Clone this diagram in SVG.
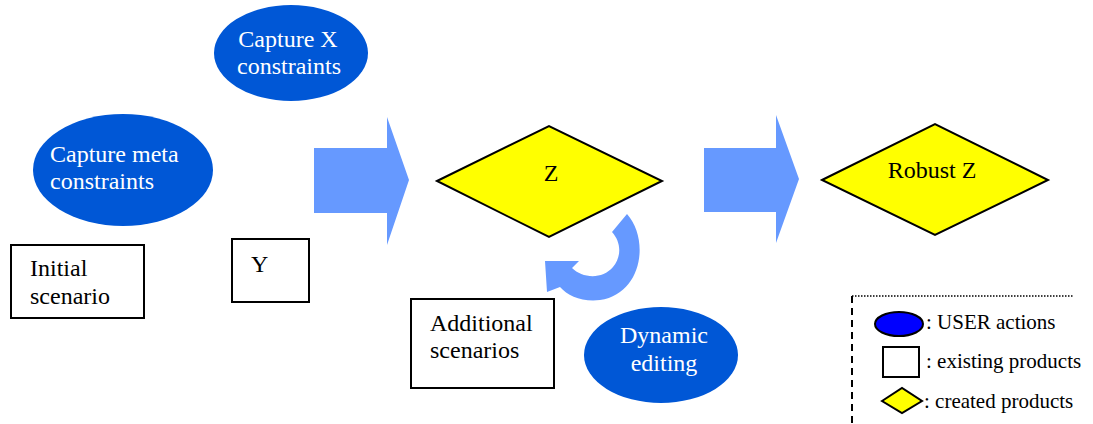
<svg xmlns="http://www.w3.org/2000/svg" width="1093" height="424" viewBox="0 0 1093 424">
<style>
.act{fill:#0057D6;}
.box{fill:#fff;stroke:#000;stroke-width:2;}
.dia{fill:#ffff00;stroke:#000;stroke-width:2;}
.arr{fill:#6699ff;}
text{font-family:'Liberation Serif','Times New Roman',Times,serif;font-size:24px;}
.w{fill:#fff;}
.k{fill:#000;}
.lg{font-size:21px;}
</style>
<rect width="1093" height="424" fill="#fff"/>
<g id="capture-x"><ellipse class="act" cx="291" cy="53" rx="77" ry="48"/><text class="w" x="288" y="47" text-anchor="middle">Capture X</text><text class="w" x="289" y="74" text-anchor="middle">constraints</text></g>
<g id="capture-meta"><ellipse class="act" cx="123" cy="170" rx="90" ry="56"/><text class="w" x="50" y="162">Capture meta</text><text class="w" x="50" y="189">constraints</text></g>
<g id="initial"><rect class="box" x="11" y="245" width="133" height="73"/><text class="k" x="30" y="276">Initial</text><text class="k" x="30" y="304">scenario</text></g>
<g id="y"><rect class="box" x="232" y="239" width="77" height="63"/><text class="k" x="251" y="272">Y</text></g>
<g id="z"><polygon class="dia" points="437,181 549,126 662,181 549,237"/><text class="k" x="551" y="181" text-anchor="middle">Z</text></g>
<g id="robust-z"><polygon class="dia" points="822,180 935,124 1048,180 935,235"/><text class="k" x="932" y="178" text-anchor="middle">Robust Z</text></g>
<g id="additional"><rect class="box" x="411" y="299" width="143" height="89"/><text class="k" x="430" y="331">Additional</text><text class="k" x="430" y="358">scenarios</text></g>
<g id="dynamic"><ellipse class="act" cx="661" cy="355" rx="77" ry="48"/><text class="w" x="664" y="343" text-anchor="middle">Dynamic</text><text class="w" x="664" y="371" text-anchor="middle">editing</text></g>
<g id="connectors">
<polygon class="arr" points="314,148 387,148 387,117 409,180 387,245 387,213 314,213"/>
<polygon class="arr" points="704,148 776,148 776,115 799,179 776,243 776,212 704,212"/>
<path class="arr" d="M627,214 C650,240 642,294 600,300 C582,302 568,296 560,287 L547,292 L545,261 L579,261 L572,268 C582,278 602,280 613,267 C622,256 621,242 612,232 Z"/>
</g>
<g id="legend">
<path d="M852,296 H1073" stroke="#000" stroke-width="1.3" stroke-dasharray="1.5,1.5" fill="none"/>
<path d="M852,296 V424" stroke="#000" stroke-width="2" stroke-dasharray="7,5" fill="none"/>
<ellipse cx="899" cy="324" rx="24" ry="12" fill="#0000ff" stroke="#000" stroke-width="2"/>
<text class="k lg" x="926" y="329">: USER actions</text>
<rect class="box" x="883" y="347" width="36" height="30"/>
<text class="k lg" x="926" y="368">: existing products</text>
<polygon class="dia" points="882,401 902,388 922,401 902,413"/>
<text class="k lg" x="924" y="408">: created products</text>
</g>
</svg>
